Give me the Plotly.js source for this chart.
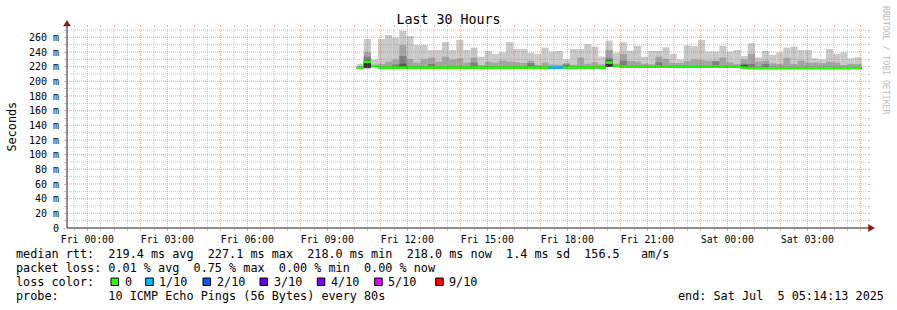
<!DOCTYPE html>
<html><head><meta charset="utf-8">
<script src="https://cdn.plot.ly/plotly-3.0.1.min.js"></script>
<style>html,body{margin:0;padding:0;background:#fff;}#chart{width:897px;height:310px;}</style>
</head><body><div id="chart"></div>
<script>
// ---------------- data ----------------
const rangeStart = Date.UTC(2025, 6, 3, 23, 14, 13);
const rangeEnd   = Date.UTC(2025, 6, 5, 5, 14, 13);
const firstBinStart = Date.UTC(2025, 6, 4, 10, 6, 0);
const binMinutes = 16;

const xTickLabels = ['Fri 00:00','Fri 03:00','Fri 06:00','Fri 09:00','Fri 12:00','Fri 15:00','Fri 18:00','Fri 21:00','Sat 00:00','Sat 03:00'];
const yTickValues = [0,20,40,60,80,100,120,140,160,180,200,220,240,260];
const yTickLabels = ['0','20 m','40 m','60 m','80 m','100 m','120 m','140 m','160 m','180 m','200 m','220 m','240 m','260 m'];

// median RTT per bin (ms)
const median = [218.6,226.5,220.8,
 218.7,218.7,218.7,218.7,218.7,218.7,218.7,218.7,218.7,218.7,218.7,218.7,
 218.7,218.7,218.7,218.7,218.7,218.7,218.7,218.7,218.7,218.7,218.7,218.7,
 218.5,218.5,
 218.8,218.8,218.8,218.8,218.8,218.8,
 225.6,221.0,
 220.1,220.1,220.1,220.1,220.1,220.1,220.1,220.1,220.1,220.1,220.1,220.1,220.1,220.1,220.1,220.1,220.1,
 218.7,
 218.0,218.0,218.0,218.0,218.0,218.0,218.0,218.0,218.0,218.0,218.0,218.0,218.0,218.0,218.0,218.0];
// packet loss per bin (%)
const lossPct = [0,0,0,0,0,0,0,0,0,0, 0,0,0,0,0,0,0,0,0,0, 0,0,0,0,0,0,0,0.75,0.40,0,
 0,0,0,0,0,0,0,0,0,0, 0,0,0,0,0,0,0,0,0,0, 0,0,0,0,0,0,0,0,0,0, 0,0,0,0,0,0,0,0,0,0, 0];
// sorted ping RTTs per bin (ms): ping1 lowest ... ping10 highest
const ping10 = [223.6,257.7,230.0,257.7,263.2,259.5,269.0,261.8,249.5,249.5,
 242.7,242.7,253.6,242.7,256.4,242.7,245.9,233.6,241.4,237.3,
 239.5,253.6,244.0,244.0,239.0,237.3,246.0,240.5,241.4,230.0,
 244.0,244.0,251.0,247.3,233.6,255.5,239.0,253.2,241.8,248.6,
 233.6,241.4,241.4,246.4,237.3,230.0,249.0,248.0,256.4,240.5,
 240.5,248.6,240.5,242.7,234.5,251.8,232.7,241.4,235.9,239.5,
 245.9,247.3,242.7,242.7,231.4,230.0,244.0,237.3,239.5,231.4,
 232.7];
const ping9 = [220.5,240.0,222.5,223.6,226.8,230.0,249.5,230.5,225.5,230.0,
 232.3,226.8,233.6,230.0,231.4,225.5,232.3,222.3,226.8,225.5,
 228.2,227.0,226.0,225.0,228.2,222.5,225.5,223.0,222.5,224.5,
 222.5,232.3,224.0,226.0,223.0,242.7,224.0,237.3,227.7,226.8,
 224.0,223.2,233.6,230.5,225.0,225.0,227.7,230.0,229.0,228.0,
 228.2,232.3,226.0,223.6,230.0,237.3,226.8,228.2,224.5,223.6,
 232.3,223.6,228.2,225.5,225.5,224.5,226.8,225.5,222.3,223.6,
 223.6];
const ping8 = [219.8,233.6,222.0,219.9,219.9,223.0,234.5,219.9,219.9,219.9,
 223.6,219.9,219.9,219.9,219.9,219.9,225.5,219.9,219.9,219.9,
 219.9,219.9,219.9,219.9,225.0,219.9,219.9,219.7,219.7,223.0,
 220.0,220.0,220.0,220.0,220.0,232.0,222.2,228.2,221.3,221.3,
 221.3,221.3,226.0,221.3,221.3,221.3,221.3,221.3,221.3,221.3,
 227.0,221.3,221.3,221.3,224.0,223.6,219.2,223.6,219.2,219.2,
 219.2,219.2,219.2,219.2,219.2,219.2,219.2,219.2,219.2,219.2,
 219.2];
const ping7 = [219.5,229.1,221.7,219.6,219.6,219.6,224.0,219.6,219.6,219.6,
 219.6,219.6,219.6,219.6,219.6,219.6,219.6,219.6,219.6,219.6,
 219.6,219.6,219.6,219.6,219.6,219.6,219.6,219.4,219.4,219.7,
 219.7,219.7,219.7,219.7,219.7,229.0,221.9,221.0,221.0,221.0,
 221.0,221.0,221.0,221.0,221.0,221.0,221.0,221.0,221.0,221.0,
 221.0,221.0,221.0,221.0,222.5,218.9,218.9,218.9,218.9,218.9,
 218.9,218.9,218.9,218.9,218.9,218.9,218.9,218.9,218.9,218.9,
 218.9];
const ping6 = [219.1,227.3,221.3,219.2,219.2,219.2,219.2,219.2,219.2,219.2,
 219.2,219.2,219.2,219.2,219.2,219.2,219.2,219.2,219.2,219.2,
 219.2,219.2,219.2,219.2,219.2,219.2,219.2,219.0,219.0,219.3,
 219.3,219.3,219.3,219.3,219.3,224.5,221.5,220.6,220.6,220.6,
 220.6,220.6,220.6,220.6,220.6,220.6,220.6,220.6,220.6,220.6,
 220.6,220.6,220.6,220.6,221.0,218.5,218.5,218.5,218.5,218.5,
 218.5,218.5,218.5,218.5,218.5,218.5,218.5,218.5,218.5,218.5,
 218.5];
const ping5 = [218.1,218.5,220.3,218.2,218.2,218.2,218.2,218.2,218.2,218.2,
 218.2,218.2,218.2,218.2,218.2,218.2,218.2,218.2,218.2,218.2,
 218.2,218.2,218.2,218.2,218.2,218.2,218.2,218.0,218.0,218.3,
 218.3,218.3,218.3,218.3,218.3,220.0,220.5,219.6,219.6,219.6,
 219.6,219.6,219.6,219.6,219.6,219.6,219.6,219.6,219.6,219.6,
 219.6,219.6,219.6,219.6,219.5,217.5,217.5,217.5,217.5,217.5,
 217.5,217.5,217.5,217.5,217.5,217.5,217.5,217.5,217.5,217.5,
 217.5];
const ping1 = [217.4,218.0,219.6,217.5,217.5,217.5,217.5,217.5,217.5,217.5,
 217.5,217.5,217.5,217.5,217.5,217.5,217.5,217.5,217.5,217.5,
 217.5,217.5,217.5,217.5,217.5,217.5,217.5,217.3,217.3,217.6,
 217.6,217.6,217.6,217.6,217.6,219.5,219.8,218.9,218.9,218.9,
 218.9,218.9,218.9,218.9,218.9,218.9,218.9,218.9,218.9,218.9,
 218.9,218.9,218.9,218.9,217.5,216.8,216.8,216.8,216.8,216.8,
 216.8,216.8,216.8,216.8,216.8,216.8,216.8,216.8,216.8,216.8,
 216.8];

const lossKeys   = [0, 1, 2, 3, 4, 5, 9];
const lossLabels = ['0','1/10','2/10','3/10','4/10','5/10','9/10'];
const lossColors = ['#26ff00','#00b8ff','#0059ff','#5e00ff','#7e00ff','#dd00ff','#ff0000'];

const statsLine1 = 'median rtt:  219.4 ms avg  227.1 ms max  218.0 ms min  218.0 ms now  1.4 ms sd  156.5   am/s';
const statsLine2 = 'packet loss: 0.01 % avg  0.75 % max  0.00 % min  0.00 % now';
const probeLine  = 'probe:       10 ICMP Echo Pings (56 Bytes) every 80s';
const endLine    = 'end: Sat Jul  5 05:14:13 2025';

// ---------------- drawing ----------------
const MONO = 'DejaVu Sans Mono';
const L = 67, R = 867, T = 28, B = 228;
const px2x = p => (p - L) / (R - L);
const px2y = p => (B - p) / (B - T);
const nb = s => s.replace(/ /g, '\u00a0');
const HOUR = 3600000;
const friMidnight = Date.UTC(2025, 6, 4, 0, 0, 0);
const binMs = binMinutes * 60000;
const xCenters = median.map((_, i) => firstBinStart + (i + 0.5) * binMs);

function lossColor(pct) {
  const lost = pct / 100 * 10;
  for (let k = 0; k < lossKeys.length; k++) if (lost <= lossKeys[k]) return lossColors[k];
  return lossColors[lossColors.length - 1];
}

const greys = ['#cacaca', '#a4a4a4', '#7e7e7e', '#585858', '#323232'];
const uppers = [ping10, ping9, ping8, ping7, ping6];
const traces = uppers.map((up, k) => {
  const lo = k < 4 ? ping1 : ping5;
  return {type: 'bar', x: xCenters, base: lo, y: up.map((v, i) => v - lo[i]), width: binMs,
    marker: {color: greys[k], line: {width: 0}}, hoverinfo: 'skip'};
});
const lineHalf = 1.7;
traces.push({type: 'bar', x: xCenters, base: median.map(v => v - lineHalf), y: median.map(() => 2 * lineHalf),
  width: binMs, marker: {color: lossPct.map(lossColor), line: {width: 0}}, hoverinfo: 'skip'});

// ticks
const hourTicks = [], hourText = [];
let li = 0;
for (let t = friMidnight; t < rangeEnd; t += HOUR) {
  hourTicks.push(t);
  const h = Math.round((t - friMidnight) / HOUR);
  hourText.push(h % 3 === 0 ? xTickLabels[li++] : '');
}

const majorCol = 'rgba(240,48,48,0.45)';
const minorCol = 'rgba(128,128,128,0.45)';
const shapes = [];
// vertical grid (on top of data, like rrdtool)
for (let t = friMidnight - HOUR / 2; t < rangeEnd; t += HOUR / 2) {
  if (t <= rangeStart) continue;
  const isMajor = ((t - friMidnight) % HOUR) === 0;
  shapes.push({type: 'line', xref: 'x', yref: 'paper', x0: t, x1: t, y0: 0, y1: 1, layer: 'above',
    line: {color: isMajor ? majorCol : minorCol, width: 1, dash: '1px,1px'}});
}
for (let v = 10; v <= 270; v += 10) {
  shapes.push({type: 'line', xref: 'paper', yref: 'y', x0: 0, x1: 1, y0: v, y1: v, layer: 'above',
    line: {color: v % 20 === 0 ? majorCol : minorCol, width: 1, dash: '1px,1px'}});
}
// axes and arrows
const axisCol = '#202020', arrowCol = '#7f1a1a';
shapes.push({type: 'line', xref: 'paper', yref: 'paper', x0: 0, x1: px2x(869), y0: 0, y1: 0, layer: 'above', line: {color: axisCol, width: 1}});
shapes.push({type: 'line', xref: 'paper', yref: 'paper', x0: 0, x1: 0, y0: 0, y1: px2y(24), layer: 'above', line: {color: axisCol, width: 1}});
shapes.push({type: 'path', xref: 'paper', yref: 'paper', layer: 'above', fillcolor: arrowCol, line: {color: arrowCol, width: 0.5},
  path: `M ${px2x(63.5)},${px2y(26)} L ${px2x(70.5)},${px2y(26)} L ${px2x(67)},${px2y(20.5)} Z`});
shapes.push({type: 'path', xref: 'paper', yref: 'paper', layer: 'above', fillcolor: arrowCol, line: {color: arrowCol, width: 0.5},
  path: `M ${px2x(868.5)},${px2y(224.5)} L ${px2x(868.5)},${px2y(231.5)} L ${px2x(874.5)},${px2y(228)} Z`});

// legend texts
const txt = (s, xp, yp, opts = {}) => Object.assign({text: nb(s), xref: 'paper', yref: 'paper', x: px2x(xp), y: px2y(yp),
  xanchor: 'left', yanchor: 'middle', showarrow: false, borderpad: 0, borderwidth: 0,
  font: {family: MONO, size: 11.8, color: '#000'}}, opts);
const annotations = [
  txt(statsLine1, 16, 254),
  txt(statsLine2, 16, 268),
  txt('loss color:', 16, 282),
  txt(probeLine, 16, 296),
  txt(endLine, 678, 296),
  {text: 'Seconds', xref: 'paper', yref: 'paper', x: px2x(11), y: px2y(126.5), textangle: -90, showarrow: false,
   xanchor: 'center', yanchor: 'middle', borderpad: 0, font: {family: MONO, size: 11.8, color: '#000'}},
  {text: nb('RRDTOOL / TOBI OETIKER'), xref: 'paper', yref: 'paper', x: px2x(886), y: px2y(60), textangle: 90, showarrow: false,
   xanchor: 'center', yanchor: 'middle', borderpad: 0, font: {family: MONO, size: 8.2, color: '#bcbcbc'}}
];
const boxLeft = [111, 145.7, 203, 260, 317.3, 374.7, 435.7];
lossLabels.forEach((lab, k) => {
  shapes.push({type: 'rect', xref: 'paper', yref: 'paper', x0: px2x(boxLeft[k]), x1: px2x(boxLeft[k] + 7.5),
    y0: px2y(285.5), y1: px2y(278), fillcolor: lossColors[k], line: {color: '#000', width: 1}, layer: 'above'});
  annotations.push(txt(lab, boxLeft[k] + 13.5, 282));
});

const layout = {
  width: 897, height: 310,
  margin: {l: L, r: 897 - R, t: T, b: 310 - B, pad: 0},
  paper_bgcolor: '#ffffff', plot_bgcolor: '#ffffff',
  showlegend: false, barmode: 'overlay', hovermode: false,
  title: {text: 'Last 30 Hours', font: {family: MONO, size: 13.3, color: '#000'},
          xref: 'container', yref: 'container', x: 0.5, y: 1 - 19 / 310, xanchor: 'center', yanchor: 'middle'},
  xaxis: {type: 'date', range: [rangeStart, rangeEnd], tickmode: 'array', tickvals: hourTicks, ticktext: hourText,
    ticks: 'outside', ticklen: 2, tickwidth: 1, tickcolor: majorCol, mirror: 'ticks',
    showgrid: false, zeroline: false, showline: false, fixedrange: true,
    tickfont: {family: MONO, size: 9.8, color: '#000'},
    minor: {tickmode: 'linear', tick0: friMidnight - HOUR / 2, dtick: HOUR, ticks: 'outside', ticklen: 2, tickcolor: minorCol, showgrid: false}},
  yaxis: {range: [0, 272.73], tickmode: 'array', tickvals: yTickValues, ticktext: yTickLabels,
    ticks: 'outside', ticklen: 2, tickwidth: 1, tickcolor: majorCol, mirror: 'ticks',
    showgrid: false, zeroline: false, showline: false, fixedrange: true, ticklabelstandoff: 3,
    tickfont: {family: MONO, size: 10, color: '#000'},
    minor: {tickmode: 'linear', tick0: 10, dtick: 20, ticks: 'outside', ticklen: 2, tickcolor: minorCol, showgrid: false}},
  shapes: shapes,
  annotations: annotations
};

Plotly.newPlot('chart', traces, layout, {staticPlot: true, displayModeBar: false});
</script>
</body></html>
